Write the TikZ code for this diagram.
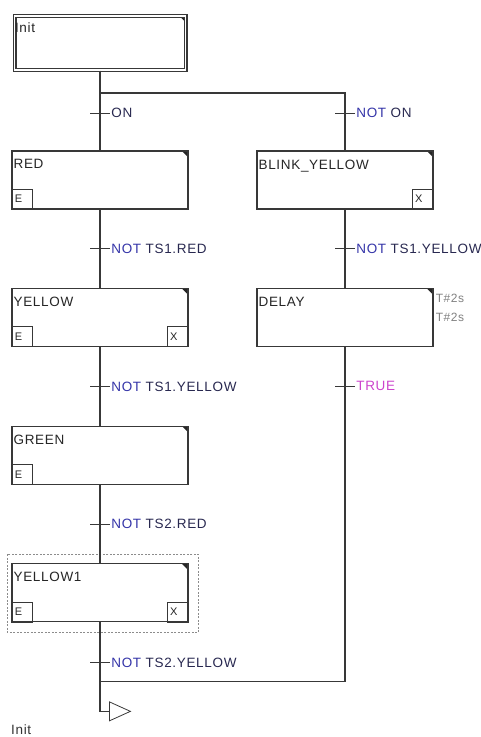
\documentclass[tikz,border=0pt]{standalone}
\usepackage{fontspec}
\setmainfont{Liberation Sans}[LetterSpace=5]
\usetikzlibrary{positioning,calc,shapes.geometric}
\definecolor{ln}{RGB}{56,56,56}
\definecolor{kw}{RGB}{52,52,168}
\definecolor{var}{RGB}{40,40,80}
\definecolor{lit}{RGB}{204,68,204}
\definecolor{par}{RGB}{128,128,128}
\newcommand{\notkw}{\textcolor{kw}{NOT}}

\begin{document}
\begin{tikzpicture}[
      x=1pt, y=1pt,
      node distance=78.5pt,
      font=\fontsize{13.5}{16}\selectfont,
      stepbox/.style={draw=ln, line width=1.1pt, fill=white, inner sep=0,
        minimum width=176pt, minimum height=58pt,
        path picture={\fill[black!85] (path picture bounding box.north east)
          -- ++(-6pt,0) -- ++(6pt,-6pt) -- cycle;}},
      initbox/.style={stepbox, line width=1.3pt, double=white, double distance=1.4pt,
        minimum width=171pt, minimum height=54pt},
      stepname/.style={anchor=north west, inner xsep=2pt, inner ysep=0, text=black!85},
      actbox/.style={draw=ln, line width=0.8pt, inner sep=0, minimum width=21pt,
        minimum height=20pt, text width=15pt, align=left, text=black!85,
        font=\fontsize{11}{12}\selectfont},
      trans/.style={fill=ln, inner sep=0, minimum width=20pt, minimum height=1pt},
      cond/.style={anchor=west, inner sep=1pt, text=var},
      par/.style={anchor=north west, inner sep=0, text=par, font=\fontsize{12}{13}\selectfont},
      link/.style={draw=ln, line width=1.1pt},
      sel/.style={draw=black!45, line width=0.7pt, dash pattern=on 2pt off 1.5pt},
      jumptri/.style={isosceles triangle, isosceles triangle stretches, draw=ln,
        line width=0.8pt, fill=white, inner sep=0, minimum width=19pt, minimum height=21pt}
    ]
      \useasboundingbox (0,0) rectangle (481,-737);

      % steps
      \node[initbox] (init) at (100,-43) {};
      \node[stepbox] (red) at (100,-180) {};
      \node[stepbox, below=of red] (yellow) {};
      \node[stepbox, below=of yellow] (green) {};
      \node[stepbox, below=of green] (yellow1) {};
      \node[stepbox] (blink) at (345,-180) {};
      \node[stepbox, below=of blink] (delay) {};

      \node[stepname] (initname) at ($(init.north west)+(-1,-7)$) {Init};
      \node[stepname] (redname) at ($(red.north west)+(0,-9)$) {RED};
      \node[stepname] (yellowname) at ($(yellow.north west)+(0,-9)$) {YELLOW};
      \node[stepname] (greenname) at ($(green.north west)+(0,-9)$) {GREEN};
      \node[stepname] (yellow1name) at ($(yellow1.north west)+(0,-9)$) {YELLOW1};
      \node[stepname] (blinkname) at ($(blink.north west)+(0,-9)$) {BLINK\_YELLOW};
      \node[stepname] (delayname) at ($(delay.north west)+(0,-9)$) {DELAY};

      % action qualifiers
      \node[actbox, anchor=south west] (redE) at (red.south west) {E};
      \node[actbox, anchor=south west] (yellowE) at (yellow.south west) {E};
      \node[actbox, anchor=south east] (yellowX) at (yellow.south east) {X};
      \node[actbox, anchor=south west] (greenE) at (green.south west) {E};
      \node[actbox, anchor=south west] (yellow1E) at (yellow1.south west) {E};
      \node[actbox, anchor=south east] (yellow1X) at (yellow1.south east) {X};
      \node[actbox, anchor=south east] (blinkX) at (blink.south east) {X};

      \node[par] (delayMin) at ($(delay.north east)+(2,-6)$) {T\#2s};
      \node[par] (delayMax) at ($(delay.north east)+(2,-25)$) {T\#2s};

      % selection frame
      \draw[sel] ($(yellow1.north west)+(-4,9)$) rectangle ($(yellow1.south east)+(10,-10)$);

      % branch / merge points
      \coordinate (split) at (100,-93);
      \node[trans] (tOn) at (100,-113) {};
      \node[trans] (tNotOn) at (345,-113) {};
      \node[trans] (tRed) at ($(red.south)!0.5!(yellow.north)$) {};
      \node[trans] (tYellow) at ($(yellow.south)!0.5!(green.north)$) {};
      \node[trans] (tGreen) at ($(green.south)!0.5!(yellow1.north)$) {};
      \node[trans] (tYellow1) at ($(yellow1.south)+(0,-40)$) {};
      \node[trans] (tBlink) at ($(blink.south)!0.5!(delay.north)$) {};
      \node[trans] (tDelay) at ($(delay.south)+(0,-39)$) {};
      \coordinate (merge) at ($(tYellow1)+(0,-19)$);
      \node[jumptri, anchor=lower side] (jump) at ($(merge)+(9,-30)$) {};

      % sequence lines
      \draw[link] (init.south) -- (red.north);
      \draw[link] (split) -| (blink.north);
      \draw[link] (red.south) -- (yellow.north);
      \draw[link] (yellow.south) -- (green.north);
      \draw[link] (green.south) -- (yellow1.north);
      \draw[link] (yellow1.south) |- (jump.lower side);
      \draw[link] (blink.south) -- (delay.north);
      \draw[link] (delay.south) |- (merge);

      % transition conditions
      \node[cond] (cOn) at (tOn.east) {ON};
      \node[cond] (cNotOn) at (tNotOn.east) {\notkw{} ON};
      \node[cond] (cRed) at (tRed.east) {\notkw{} TS1.RED};
      \node[cond] (cYellow) at (tYellow.east) {\notkw{} TS1.YELLOW};
      \node[cond] (cGreen) at (tGreen.east) {\notkw{} TS2.RED};
      \node[cond] (cYellow1) at (tYellow1.east) {\notkw{} TS2.YELLOW};
      \node[cond] (cBlink) at (tBlink.east) {\notkw{} TS1.YELLOW};
      \node[cond] (cDelay) at (tDelay.east) {\textcolor{lit}{TRUE}};

      \node[anchor=west, inner sep=0, text=black!80] (jumpname) at (11,-730) {Init};
    \end{tikzpicture}
\end{document}
